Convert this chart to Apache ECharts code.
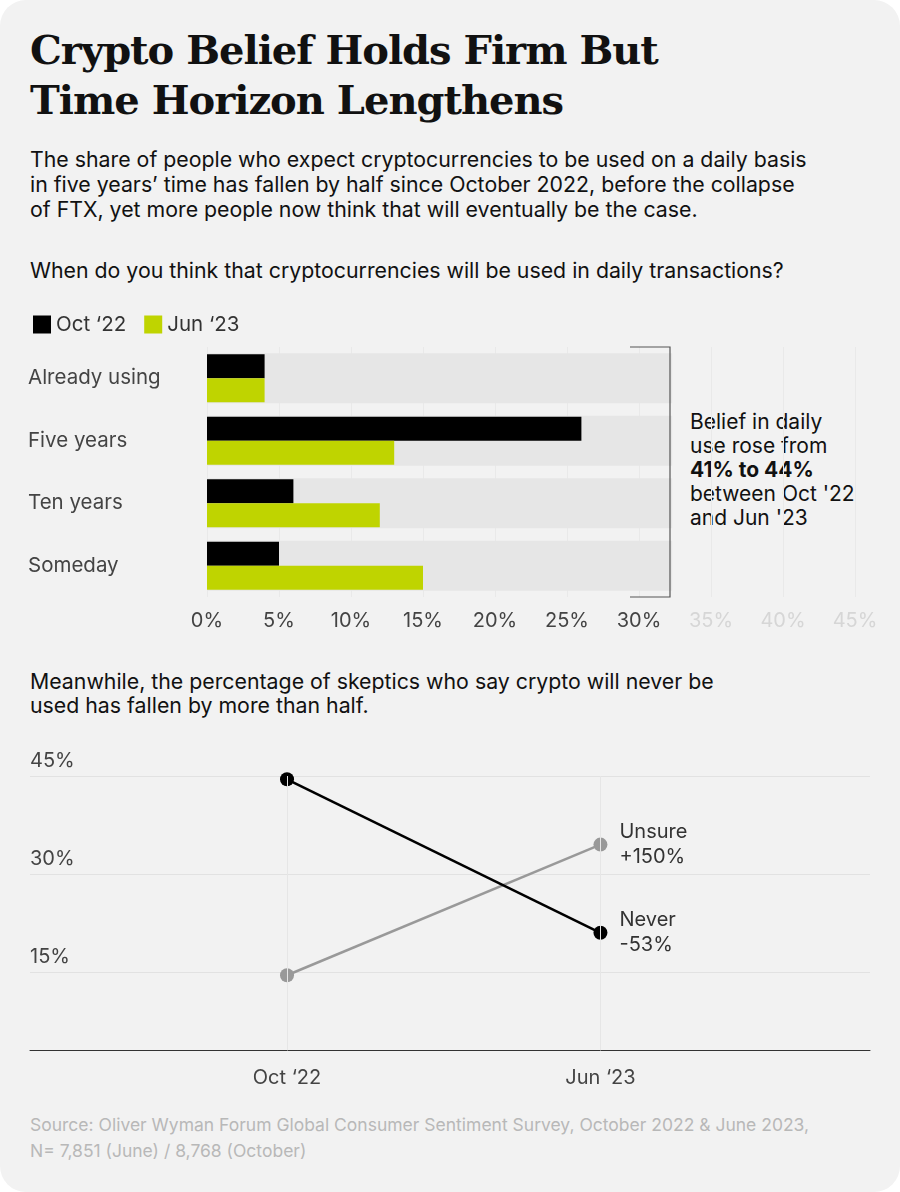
<!DOCTYPE html>
<html><head><meta charset="utf-8">
<script src="https://cdn.jsdelivr.net/npm/echarts@6/dist/echarts.min.js"></script>
<style>
html,body{margin:0;padding:0;background:#fff;}
#card{position:absolute;left:0;top:0;width:900px;height:1192px;background:#f2f2f2;border-radius:26px;overflow:hidden;font-family:Inter,"Noto Sans",sans-serif;color:#111;}
#c{position:absolute;left:0;top:0;width:900px;height:1192px;}
.t{position:absolute;left:30px;white-space:nowrap;}
</style></head><body>
<div id="card">
<div class="t" style="top:25px;font:bold 40px/50px 'DejaVu Serif',serif;letter-spacing:-1px;">Crypto Belief Holds Firm But<br>Time Horizon Lengthens</div>
<div class="t" style="top:147px;font-size:21.3px;line-height:25px;">The share of people who expect cryptocurrencies to be used on a daily basis<br>in five years’ time has fallen by half since October 2022, before the collapse<br>of FTX, yet more people now think that will eventually be the case.</div>
<div class="t" style="top:257px;font-size:21.3px;">When do you think that cryptocurrencies will be used in daily transactions?</div>
<div class="t" style="top:669px;font-size:21.3px;line-height:24px;">Meanwhile, the percentage of skeptics who say crypto will never be<br>used has fallen by more than half.</div>
<div class="t" style="top:1112px;font-size:17.5px;line-height:26px;color:#b8b8b8;">Source: Oliver Wyman Forum Global Consumer Sentiment Survey, October 2022 &amp; June 2023,<br>N= 7,851 (June) / 8,768 (October)</div>
<div class="t" style="left:690px;top:410px;font-size:21px;line-height:24px;">Belief in daily<br>use rose from<br><b>41% to 44%</b><br>between Oct '22<br>and Jun '23</div>
<div id="c"></div>
</div>
<script>
const categories = ['Already using', 'Five years', 'Ten years', 'Someday'];
const oct22 = [4, 26, 6, 5];
const jun23 = [4, 13, 12, 15];
const bandValue = [32.3, 32.3, 32.3, 32.3];
const lineCats = ["Oct ‘22", "Jun ‘23"];
const never = [44.5, 21];
const unsure = [14.5, 34.5];

const chart = echarts.init(document.getElementById('c'));
const font = 'Inter';
chart.setOption({
  textStyle: { fontFamily: font },
  legend: {
    left: 28, top: 309, itemWidth: 18, itemHeight: 18, itemGap: 18,
    icon: 'rect', textStyle: { fontSize: 20.5, color: '#333' },
    data: ["Oct ‘22", "Jun ‘23"]
  },
  grid: [
    { left: 207, right: 45, top: 347, height: 250 },
    { left: 30, right: 30, top: 776, height: 294 }
  ],
  xAxis: [
    { gridIndex: 0, type: 'value', min: 0, max: 45, interval: 5,
      axisLine: { show: false }, axisTick: { show: false },
      splitLine: { lineStyle: { color: '#e9e9e9' } },
      axisLabel: { margin: 14, fontSize: 20,
        formatter: v => v <= 30 ? '{a|' + v + '%}' : '{b|' + v + '%}',
        rich: { a: { color: '#444', fontSize: 20 }, b: { color: '#d6d6d6', fontSize: 20 } } } },
    { gridIndex: 1, type: 'value', min: -0.82, max: 1.86, offset: -20,
      axisLine: { show: true, onZero: false, lineStyle: { color: '#333' } },
      axisTick: { show: false }, splitLine: { show: false },
      axisLabel: { customValues: [0, 1], fontSize: 20, color: '#444', margin: 18,
        formatter: v => lineCats[Math.round(v)] } }
  ],
  yAxis: [
    { gridIndex: 0, type: 'category', data: categories, inverse: true,
      axisLine: { show: false }, axisTick: { show: false },
      axisLabel: { fontSize: 20.5, color: '#444', align: 'left', margin: 179 } },
    { gridIndex: 0, type: 'category', data: categories, inverse: true, show: false },
    { gridIndex: 1, type: 'value', min: 0, max: 45, interval: 15,
      axisLine: { show: false }, axisTick: { show: false },
      splitLine: { showMinLine: false, lineStyle: { color: '#e2e2e2' } },
      axisLabel: { inside: true, showMinLabel: false, verticalAlign: 'bottom', fontSize: 20,
        color: '#444', margin: 0, formatter: '{value}%', padding: [0, 0, 5, 0] } }
  ],
  graphic: [{ type: 'polyline', shape: { points: [[630, 347], [670, 347], [670, 597], [630, 597]] },
    style: { stroke: '#555', lineWidth: 1.2, fill: null }, z: 10 }],
  series: [
    { type: 'bar', xAxisIndex: 0, yAxisIndex: 1, data: bandValue, barWidth: 50,
      itemStyle: { color: '#e6e6e6' }, silent: true, z: 1 },
    { name: "Oct ‘22", type: 'bar', xAxisIndex: 0, yAxisIndex: 0, data: oct22,
      barWidth: 24, barGap: '0%', itemStyle: { color: '#000' }, z: 3 },
    { name: "Jun ‘23", type: 'bar', xAxisIndex: 0, yAxisIndex: 0, data: jun23,
      barWidth: 24, itemStyle: { color: '#bfd400' }, z: 3 },
    { type: 'line', xAxisIndex: 1, yAxisIndex: 2, data: [], z: 1, silent: true,
      markLine: { silent: true, symbol: 'none', label: { show: false },
        lineStyle: { color: '#e6e6e6', type: 'solid', width: 1 },
        data: [[{ coord: [0, 45] }, { coord: [0, 3] }], [{ coord: [1, 45] }, { coord: [1, 3] }]] } },
    { name: 'Never', type: 'line', xAxisIndex: 1, yAxisIndex: 2,
      data: never.map((v, i) => [i, v]), symbol: 'circle', symbolSize: 14,
      lineStyle: { color: '#000', width: 2.5 }, itemStyle: { color: '#000' }, z: 4,
      label: { show: true, position: 'right', distance: 12, fontSize: 20, color: '#333', lineHeight: 25,
        padding: [14, 0, 0, 0], formatter: p => p.dataIndex === 1 ? 'Never\n-53%' : '' } },
    { name: 'Unsure', type: 'line', xAxisIndex: 1, yAxisIndex: 2,
      data: unsure.map((v, i) => [i, v]), symbol: 'circle', symbolSize: 14,
      lineStyle: { color: '#999', width: 2.5 }, itemStyle: { color: '#999' }, z: 3,
      label: { show: true, position: 'right', distance: 12, fontSize: 20, color: '#333', lineHeight: 25,
        padding: [14, 0, 0, 0], formatter: p => p.dataIndex === 1 ? 'Unsure\n+150%' : '' } }
  ]
});
</script>
</body></html>
